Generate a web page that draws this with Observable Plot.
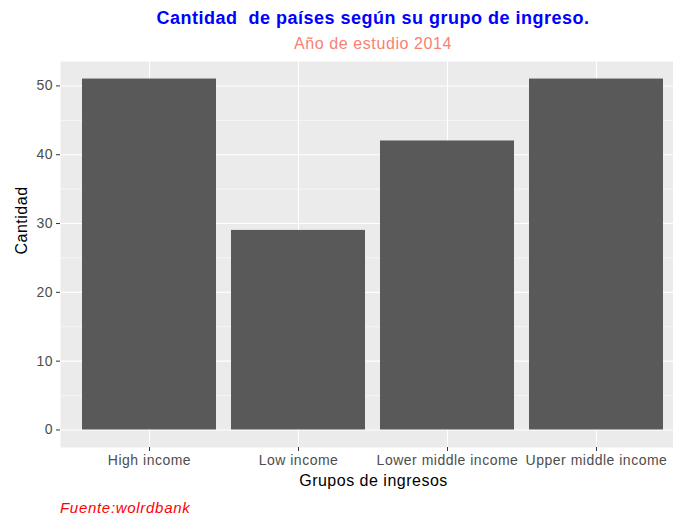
<!DOCTYPE html>
<html>
<head>
<meta charset="utf-8">
<script src="https://cdn.jsdelivr.net/npm/d3@7"></script>
<script src="https://cdn.jsdelivr.net/npm/@observablehq/plot@0.6"></script>
<style>
  html, body { margin: 0; padding: 0; background: #fff; overflow: hidden; }
  #wrap { position: relative; width: 673px; height: 520px; overflow: hidden; font-family: Arial, "Liberation Sans", sans-serif; }
  .ttl { position: absolute; left: 0; width: 746px; text-align: center; white-space: pre; }
  #title { top: 8px; font-size: 18px; line-height: 20px; font-weight: bold; color: #0000FF; letter-spacing: 0.5px; }
  #subtitle { top: 35px; font-size: 16px; line-height: 18px; color: #FA8072; letter-spacing: 0.6px; }
  #chart { position: absolute; top: 54px; left: 0; width: 686px; }
  #chart svg { max-width: none !important; }
  #caption { position: absolute; left: 60px; top: 499px; font-size: 15px; line-height: 17px; font-style: italic; color: #FF0000; letter-spacing: 0.7px; }
</style>
</head>
<body>
<div id="wrap">
  <div id="title" class="ttl">Cantidad  de países según su grupo de ingreso.</div>
  <div id="subtitle" class="ttl">Año de estudio 2014</div>
  <div id="chart"></div>
  <div id="caption">Fuente:wolrdbank</div>
</div>
<script>
const groups = ["High income", "Low income", "Lower middle income", "Upper middle income"];
const counts = [51, 29, 42, 51];
const yMajorTicks = [0, 10, 20, 30, 40, 50];
const yMinorTicks = [5, 15, 25, 35, 45];
const xTitle = "Grupos de ingresos";
const yTitle = "Cantidad";

const data = groups.map((g, i) => ({group: g, count: counts[i]}));

const plot = Plot.plot({
  width: 686,
  height: 450,
  marginTop: 7,
  marginBottom: 57,
  marginLeft: 60,
  marginRight: 0,
  style: {fontFamily: 'Arial, "Liberation Sans", sans-serif', letterSpacing: "0.5px", background: "transparent", overflow: "visible", maxWidth: "none"},
  x: {domain: groups, paddingInner: 0.1, paddingOuter: 0.15, align: 0.5},
  y: {domain: [-2.55, 53.55]},
  marks: [
    Plot.frame({fill: "#EBEBEB", stroke: null}),
    Plot.gridY(yMinorTicks, {stroke: "#FFFFFF", strokeOpacity: 1, strokeWidth: 0.55}),
    Plot.gridY(yMajorTicks, {stroke: "#FFFFFF", strokeOpacity: 1, strokeWidth: 1.1}),
    Plot.gridX(groups, {stroke: "#FFFFFF", strokeOpacity: 1, strokeWidth: 1.1}),
    Plot.barY(data, {x: "group", y: "count", fill: "#595959"}),
    Plot.axisY(yMajorTicks, {tickSize: 4, tickPadding: 3.5, fontSize: 14, stroke: "#333333", fill: "#4D4D4D", label: null}),
    Plot.axisX(groups, {tickSize: 4, tickPadding: 4, fontSize: 14, stroke: "#333333", fill: "#4D4D4D", label: null}),
    Plot.text([yTitle], {frameAnchor: "left", dx: -39, rotate: -90, fontSize: 16, fill: "#000000"}),
    Plot.text([xTitle], {frameAnchor: "bottom", dy: 38, fontSize: 16, fill: "#000000"})
  ]
});
document.getElementById("chart").appendChild(plot);
</script>
</body>
</html>
